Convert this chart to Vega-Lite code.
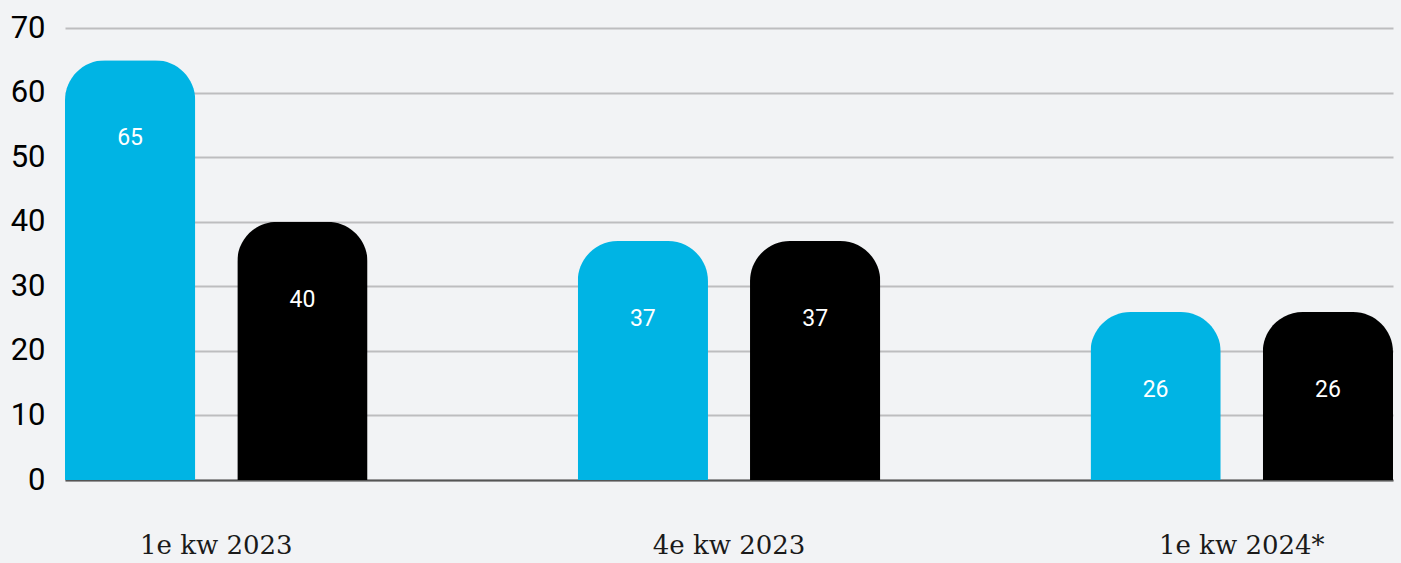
{
  "$schema": "https://vega.github.io/schema/vega-lite/v6.json",
  "width": 1328,
  "height": 452,
  "autosize": {"type": "none"},
  "padding": {"left": 65, "top": 28, "right": 8, "bottom": 83},
  "background": "#f2f3f5",
  "config": {"view": {"stroke": null}},
  "data": {
    "values": [
      {"quarter": "1e kw 2023", "series": "A", "value": 65},
      {"quarter": "1e kw 2023", "series": "B", "value": 40},
      {"quarter": "4e kw 2023", "series": "A", "value": 37},
      {"quarter": "4e kw 2023", "series": "B", "value": 37},
      {"quarter": "1e kw 2024*", "series": "A", "value": 26},
      {"quarter": "1e kw 2024*", "series": "B", "value": 26}
    ]
  },
  "encoding": {
    "x": {
      "field": "quarter", "type": "nominal", "sort": null, "title": null,
      "scale": {"paddingInner": 0.41, "paddingOuter": 0},
      "axis": {"labelAngle": 0, "domain": true, "domainColor": "#555555", "domainWidth": 2, "ticks": false, "labelPadding": 52, "labelDx": 7, "labelFont": "DejaVu Serif", "labelFontSize": 26, "labelColor": "#1a1a1a", "labelBaseline": "top"}
    },
    "xOffset": {"field": "series", "type": "nominal", "scale": {"paddingInner": 0.244, "paddingOuter": 0}},
    "y": {
      "field": "value", "type": "quantitative", "title": null,
      "scale": {"domain": [0, 70], "nice": false},
      "axis": {"values": [0,10,20,30,40,50,60,70], "domain": false, "ticks": false, "labelPadding": 20, "labelFont": "Roboto", "labelFontSize": 31, "labelColor": "#000000", "gridColor": "#bdbdbf", "gridWidth": 2}
    }
  },
  "layer": [
    {
      "mark": {"type": "bar", "cornerRadiusTopLeft": 40, "cornerRadiusTopRight": 40},
      "encoding": {
        "color": {"field": "series", "type": "nominal", "scale": {"domain": ["A", "B"], "range": ["#00b4e4", "#000000"]}, "legend": null}
      }
    },
    {
      "mark": {"type": "text", "color": "#ffffff", "font": "Roboto", "fontSize": 23, "baseline": "middle", "dy": 78},
      "encoding": {"text": {"field": "value", "type": "quantitative"}}
    }
  ]
}
